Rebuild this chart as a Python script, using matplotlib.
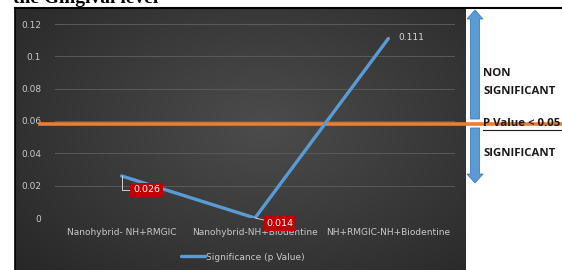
import numpy as np
import matplotlib
matplotlib.use("Agg")
import matplotlib.pyplot as plt
from matplotlib.transforms import blended_transform_factory
from matplotlib.patches import FancyArrow
from matplotlib.lines import Line2D

categories = ["Nanohybrid- NH+RMGIC", "Nanohybrid-NH+Biodentine", "NH+RMGIC-NH+Biodentine"]
p_values = [0.026, 0.0, 0.111]
data_labels = ["0.026", "0.014", "0.111"]
threshold = 0.058
y_ticks = [0, 0.02, 0.04, 0.06, 0.08, 0.1, 0.12]
y_tick_labels = ["0", "0.02", "0.04", "0.06", "0.08", "0.1", "0.12"]
legend_label = "Significance (p Value)"
title_text = "the Gingival level"

W, H = 562, 270
fig = plt.figure(figsize=(W / 100, H / 100), dpi=100)
fig.patch.set_facecolor("white")

def fx(px):
    return px / W

def fy(py):
    return 1 - py / H

# dark panel with radial gradient
bg = fig.add_axes([fx(15), 0, fx(466) - fx(15), fy(8)])
bg.set_axis_off()
yy, xx = np.mgrid[0:1:200j, 0:1:300j]
r = np.sqrt(((xx - 0.55) / 0.8) ** 2 + ((yy - 0.55) / 0.9) ** 2)
r = np.clip(r, 0, 1)
c0 = np.array([0x4c, 0x4c, 0x4c]) / 255
c1 = np.array([0x24, 0x24, 0x24]) / 255
img = c0[None, None, :] * (1 - r[..., None]) + c1[None, None, :] * r[..., None]
bg.imshow(img, aspect="auto", extent=[0, 1, 0, 1], origin="lower")
bg.set_xlim(0, 1)
bg.set_ylim(0, 1)

# frame lines
fig.add_artist(Line2D([fx(15), 1], [fy(7.5), fy(7.5)], color="black", lw=1.5))
fig.add_artist(Line2D([fx(15), fx(15)], [0, fy(7.5)], color="black", lw=1.2))

# partial title at very top (cut off in the reference as well)
fig.text(fx(13), fy(3), title_text, fontsize=14, fontweight="bold",
         family="Liberation Serif", va="baseline", ha="left", color="black")

ax = fig.add_axes([fx(55), fy(218), fx(455) - fx(55), fy(24) - fy(218)])
ax.patch.set_alpha(0)
x = np.arange(len(categories))
ax.plot(x, p_values, color="#5b9bd5", lw=2.4, solid_capstyle="round", zorder=3,
        label=legend_label)
ax.set_xlim(-0.5, 2.5)
ax.set_ylim(0, 0.12)
ax.set_yticks(y_ticks)
ax.set_yticklabels(y_tick_labels)
ax.set_xticks(x)
ax.set_xticklabels(categories)
ax.tick_params(axis="both", length=0, colors="#c8c8c8", labelsize=6.5)
ax.tick_params(axis="y", pad=10)
ax.tick_params(axis="x", pad=7)
for s in ax.spines.values():
    s.set_visible(False)
ax.grid(axis="y", color="#5a5a5a", lw=0.7)
ax.set_axisbelow(True)

# threshold line across figure
tr = blended_transform_factory(fig.transFigure, ax.transData)
ax.add_line(Line2D([fx(40), 1], [threshold, threshold], transform=tr,
                   color="#ed7d31", lw=2.6, clip_on=False, zorder=2))

# data labels
ax.annotate(data_labels[0], xy=(x[0], p_values[0]), xytext=(18, -10),
            textcoords="offset points", ha="center", va="center",
            fontsize=6.8, color="white",
            bbox=dict(boxstyle="square,pad=0.3", fc="#c00000", ec="none"),
            arrowprops=dict(arrowstyle="-", color="#d0d0d0", lw=0.7,
                            connectionstyle="angle,angleA=0,angleB=90,rad=0",
                            shrinkA=0, shrinkB=0))
ax.annotate(data_labels[1], xy=(x[1], p_values[1]), xytext=(18, -4),
            textcoords="offset points", ha="center", va="center",
            fontsize=6.8, color="white",
            bbox=dict(boxstyle="square,pad=0.3", fc="#c00000", ec="none"),
            arrowprops=dict(arrowstyle="-", color="#d0d0d0", lw=0.7,
                            shrinkA=0, shrinkB=0), annotation_clip=False)
ax.annotate(data_labels[2], xy=(x[2], p_values[2]), xytext=(7, 1),
            textcoords="offset points", ha="left", va="center",
            fontsize=6.5, color="#d8d8d8")

leg = fig.legend(loc="center", bbox_to_anchor=(fx(243), fy(257)), frameon=False,
                 fontsize=6.5, handlelength=2.6, handletextpad=0.2)
for t in leg.get_texts():
    t.set_color("#c8c8c8")

# right side arrows and notes
ax2 = fig.add_axes([0, 0, 1, 1])
ax2.set_axis_off()
ax2.set_xlim(0, W)
ax2.set_ylim(H, 0)
ax2.patch.set_alpha(0)
ax2.add_patch(FancyArrow(475, 119, 0, -109, width=9, head_width=16, head_length=9,
                         length_includes_head=True, fc="#5b9bd5", ec="#3f7fb8", lw=0.6))
ax2.add_patch(FancyArrow(475, 128, 0, 55, width=9, head_width=16, head_length=9,
                         length_includes_head=True, fc="#5b9bd5", ec="#3f7fb8", lw=0.6))

tkw = dict(fontsize=8.2, fontweight="bold", family="Open Sans", color="#1a1a1a",
           ha="left", va="center")
ax2.text(483, 73, "NON", **tkw)
ax2.text(483, 91, "SIGNIFICANT", **tkw)
ax2.text(483, 123, "P Value < 0.05", **tkw)
ax2.add_line(Line2D([483, 562], [130, 130], color="#1a1a1a", lw=0.8))
ax2.text(483, 153, "SIGNIFICANT", **tkw)

fig.savefig("out.png", dpi=100)
